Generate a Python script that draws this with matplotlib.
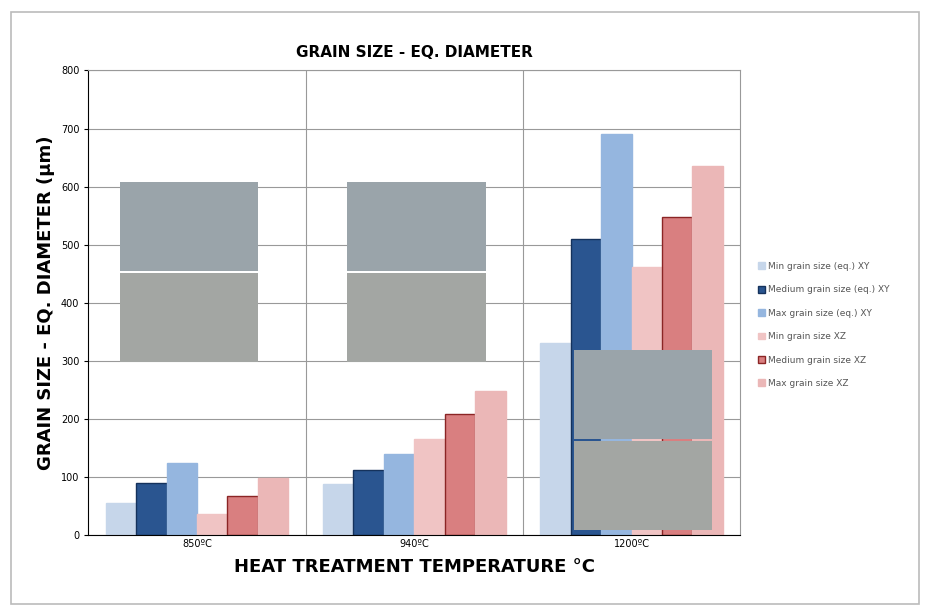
import matplotlib.pyplot as plt
import numpy as np
from matplotlib.patches import Rectangle

temps = ["850ºC", "940ºC", "1200ºC"]
series = ["Min grain size (eq.) XY", "Medium grain size (eq.) XY", "Max grain size (eq.) XY",
          "Min grain size XZ", "Medium grain size XZ", "Max grain size XZ"]
min_xy = [55, 87, 330]
med_xy = [88, 112, 510]
max_xy = [123, 138, 690]
min_xz = [35, 165, 462]
med_xz = [67, 207, 548]
max_xz = [97, 247, 635]

values = [min_xy, med_xy, max_xy, min_xz, med_xz, max_xz]
faces = ["#c6d6ea", "#2a5590", "#95b6df", "#f0c4c4", "#d97f80", "#ebb7b7"]
edges = ["#c6d6ea", "#15325c", "#95b6df", "#f0c4c4", "#8b2525", "#ebb7b7"]

fig = plt.figure(figsize=(9.31, 6.13), dpi=100)
fig.patches.append(Rectangle((0.012, 0.015), 0.975, 0.965, transform=fig.transFigure,
                             fill=False, edgecolor="#bbbbbb", lw=1.2))
ax = fig.add_axes([0.095, 0.128, 0.700, 0.757])

x = np.arange(len(temps))
w = 0.14
for i, (vals, fc, ec) in enumerate(zip(values, faces, edges)):
    ax.bar(x + (i - 2.5) * w, vals, w, color=fc, edgecolor=ec, lw=1, label=series[i], zorder=2)

ax.set_xlim(-0.5, 2.5)
ax.set_ylim(0, 800)
ax.set_yticks(range(0, 801, 100))
ax.set_xticks(x)
ax.set_xticklabels(temps, fontsize=7)
ax.tick_params(axis="y", labelsize=7, length=3)
ax.tick_params(axis="x", length=0)
ax.grid(axis="y", color="#999999", lw=0.8, zorder=0)
for xv in [0.5, 1.5]:
    ax.axvline(xv, color="#999999", lw=0.8, zorder=0)
for s in ["top", "right"]:
    ax.spines[s].set_color("#999999")
ax.set_title("GRAIN SIZE - EQ. DIAMETER", fontsize=11, fontweight="bold", pad=10)
ax.set_xlabel("HEAT TREATMENT TEMPERATURE °C", fontsize=13, fontweight="bold", labelpad=6)
ax.set_ylabel("GRAIN SIZE - EQ. DIAMETER (µm)", fontsize=13, fontweight="bold")

# micrograph placeholders
for (x0, y0, x1, y1) in [(120, 182, 258, 362), (347, 182, 486, 362), (574, 350, 712, 530)]:
    fx0, fx1 = x0 / 931, x1 / 931
    fy0, fy1 = 1 - y1 / 613, 1 - y0 / 613
    mid = (fy0 + fy1) / 2
    for (a, b, c) in [(mid + 0.002, fy1, "#9aa4aa"), (fy0, mid - 0.002, "#a3a6a3")]:
        fig.patches.append(Rectangle((fx0, a), fx1 - fx0, b - a, transform=fig.transFigure,
                                     facecolor=c, edgecolor="none", zorder=5))

fig.legend(*ax.get_legend_handles_labels(), loc="center left", bbox_to_anchor=(0.805, 0.47),
           frameon=False, fontsize=6.5, labelspacing=1.6, handlelength=0.8, handleheight=0.8,
           handletextpad=0.3, labelcolor="#555555")

fig.savefig("out.png", dpi=100)
